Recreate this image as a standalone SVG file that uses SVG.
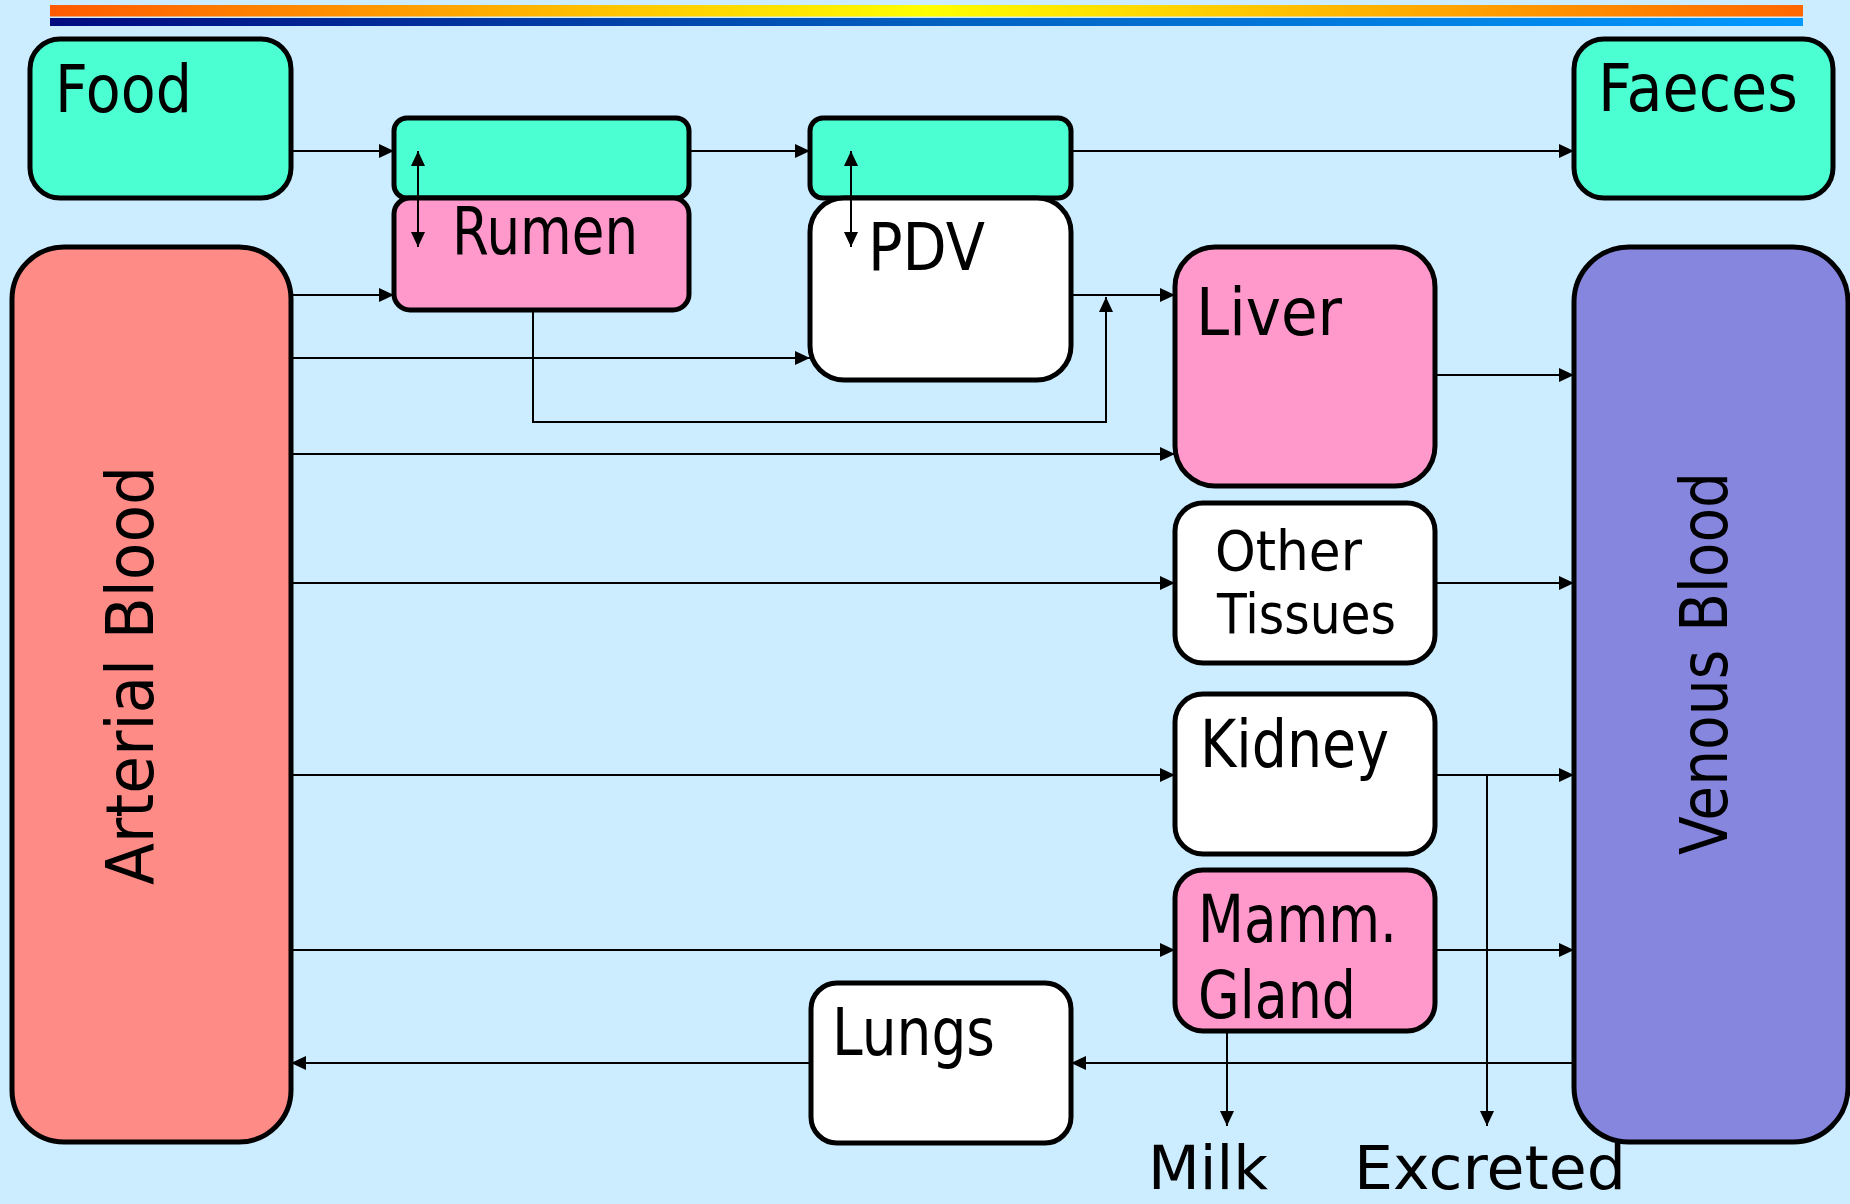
<svg xmlns="http://www.w3.org/2000/svg" width="1850" height="1204" viewBox="0 0 1850 1204">
  <defs>
    <linearGradient id="barWarm" x1="0" y1="0" x2="1" y2="0">
      <stop offset="0" stop-color="#FF5A00"/>
      <stop offset="0.5" stop-color="#FFFF00"/>
      <stop offset="1" stop-color="#FF6600"/>
    </linearGradient>
    <linearGradient id="barCool" x1="0" y1="0" x2="1" y2="0">
      <stop offset="0" stop-color="#000A80"/>
      <stop offset="0.5" stop-color="#0060C0"/>
      <stop offset="1" stop-color="#0099FF"/>
    </linearGradient>
    <marker id="arrow" markerUnits="userSpaceOnUse" markerWidth="15" markerHeight="14" refX="15" refY="7" orient="auto">
      <path d="M0,0 L15,7 L0,14 z" fill="#000"/>
    </marker>
    <marker id="arrowStart" markerUnits="userSpaceOnUse" markerWidth="15" markerHeight="14" refX="0" refY="7" orient="auto">
      <path d="M15,0 L0,7 L15,14 z" fill="#000"/>
    </marker>
  </defs>
  <style>
    .box { stroke: #000; stroke-width: 5; }
    .aqua { fill: #4BFFD2; }
    .pink { fill: #FF99CC; }
    .white { fill: #FFFFFF; }
    .salmon { fill: #FF8B87; }
    .purple { fill: #8686DF; }
    .label { font-family: "Comic Sans MS", "DejaVu Sans", sans-serif; fill: #000; }
    .big { font-size: 66px; }
    .mid { font-size: 56px; }
    .out { font-size: 61px; }
    .link { fill: none; stroke: #000; stroke-width: 2; }
  </style>

  <!-- background and header bars -->
  <rect x="0" y="0" width="1850" height="1204" fill="#CCECFF"/>
  <rect x="50" y="5" width="1753" height="11.5" fill="url(#barWarm)"/>
  <rect x="50" y="18" width="1753" height="8" fill="url(#barCool)"/>

  <g id="food">
    <rect class="box aqua" x="30" y="39" width="261" height="159" rx="30"/>
    <text class="label big" x="55" y="112" textLength="137" lengthAdjust="spacingAndGlyphs">Food</text>
  </g>

  <g id="faeces">
    <rect class="box aqua" x="1574" y="39" width="259" height="159" rx="30"/>
    <text class="label big" x="1598" y="111" textLength="200" lengthAdjust="spacingAndGlyphs">Faeces</text>
  </g>

  <g id="rumen-lumen">
    <rect class="box aqua" x="394" y="118" width="295" height="80" rx="13"/>
  </g>

  <g id="rumen">
    <rect class="box pink" x="394" y="198" width="295" height="112" rx="16"/>
    <text class="label big" x="452" y="254" textLength="186" lengthAdjust="spacingAndGlyphs">Rumen</text>
  </g>

  <g id="pdv-lumen">
    <rect class="box aqua" x="810" y="118" width="261" height="80" rx="13"/>
  </g>

  <g id="pdv">
    <rect class="box white" x="810" y="198" width="261" height="182" rx="34"/>
    <text class="label big" x="868" y="270" textLength="117" lengthAdjust="spacingAndGlyphs">PDV</text>
  </g>

  <g id="liver">
    <rect class="box pink" x="1175" y="247" width="260" height="239" rx="40"/>
    <text class="label big" x="1196" y="335" textLength="146" lengthAdjust="spacingAndGlyphs">Liver</text>
  </g>

  <g id="other-tissues">
    <rect class="box white" x="1175" y="503" width="260" height="160" rx="28"/>
    <text class="label mid" x="1215" y="570" textLength="147" lengthAdjust="spacingAndGlyphs">Other</text>
    <text class="label mid" x="1217" y="633" textLength="179" lengthAdjust="spacingAndGlyphs">Tissues</text>
  </g>

  <g id="kidney">
    <rect class="box white" x="1175" y="694" width="260" height="160" rx="28"/>
    <text class="label big" x="1200" y="767" textLength="189" lengthAdjust="spacingAndGlyphs">Kidney</text>
  </g>

  <g id="mammary-gland">
    <rect class="box pink" x="1175" y="870" width="260" height="161" rx="28"/>
    <text class="label big" x="1198" y="942" textLength="199" lengthAdjust="spacingAndGlyphs">Mamm.</text>
    <text class="label big" x="1198" y="1018" textLength="158" lengthAdjust="spacingAndGlyphs">Gland</text>
  </g>

  <g id="lungs">
    <rect class="box white" x="811" y="983" width="260" height="160" rx="26"/>
    <text class="label big" x="832" y="1055" textLength="163" lengthAdjust="spacingAndGlyphs">Lungs</text>
  </g>

  <g id="arterial-blood">
    <rect class="box salmon" x="12" y="247" width="279" height="895" rx="52"/>
    <text class="label big" transform="translate(153,885) rotate(-90)" textLength="419" lengthAdjust="spacingAndGlyphs">Arterial Blood</text>
  </g>

  <g id="venous-blood">
    <rect class="box purple" x="1574" y="247" width="274" height="895" rx="55"/>
    <text class="label big" transform="translate(1727,855) rotate(-90)" textLength="383" lengthAdjust="spacingAndGlyphs">Venous Blood</text>
  </g>

  <g id="outputs">
    <text class="label out" x="1148" y="1189" textLength="120" lengthAdjust="spacingAndGlyphs">Milk</text>
    <text class="label out" x="1354" y="1189" textLength="272" lengthAdjust="spacingAndGlyphs">Excreted</text>
  </g>

  <g id="connectors">
    <!-- gut contents -->
    <line class="link" x1="291" y1="151" x2="394" y2="151" marker-end="url(#arrow)"/>
    <line class="link" x1="689" y1="151" x2="810" y2="151" marker-end="url(#arrow)"/>
    <line class="link" x1="1071" y1="151" x2="1574" y2="151" marker-end="url(#arrow)"/>
    <!-- exchange across gut walls -->
    <line class="link" x1="418" y1="151" x2="418" y2="247" marker-start="url(#arrowStart)" marker-end="url(#arrow)"/>
    <line class="link" x1="851" y1="151" x2="851" y2="247" marker-start="url(#arrowStart)" marker-end="url(#arrow)"/>
    <!-- arterial supply -->
    <line class="link" x1="291" y1="295" x2="394" y2="295" marker-end="url(#arrow)"/>
    <line class="link" x1="291" y1="358" x2="810" y2="358" marker-end="url(#arrow)"/>
    <line class="link" x1="291" y1="454" x2="1175" y2="454" marker-end="url(#arrow)"/>
    <line class="link" x1="291" y1="583" x2="1175" y2="583" marker-end="url(#arrow)"/>
    <line class="link" x1="291" y1="775" x2="1175" y2="775" marker-end="url(#arrow)"/>
    <line class="link" x1="291" y1="950" x2="1175" y2="950" marker-end="url(#arrow)"/>
    <!-- portal drainage -->
    <polyline class="link" points="533,310 533,422 1106,422 1106,297" marker-end="url(#arrow)"/>
    <line class="link" x1="1071" y1="295" x2="1175" y2="295" marker-end="url(#arrow)"/>
    <!-- venous return -->
    <line class="link" x1="1435" y1="375" x2="1574" y2="375" marker-end="url(#arrow)"/>
    <line class="link" x1="1435" y1="583" x2="1574" y2="583" marker-end="url(#arrow)"/>
    <line class="link" x1="1435" y1="775" x2="1574" y2="775" marker-end="url(#arrow)"/>
    <line class="link" x1="1435" y1="950" x2="1574" y2="950" marker-end="url(#arrow)"/>
    <!-- losses -->
    <line class="link" x1="1487" y1="775" x2="1487" y2="1126" marker-end="url(#arrow)"/>
    <line class="link" x1="1227" y1="1031" x2="1227" y2="1126" marker-end="url(#arrow)"/>
    <!-- pulmonary circuit -->
    <line class="link" x1="1574" y1="1063" x2="1071" y2="1063" marker-end="url(#arrow)"/>
    <line class="link" x1="811" y1="1063" x2="291" y2="1063" marker-end="url(#arrow)"/>
  </g>
</svg>
